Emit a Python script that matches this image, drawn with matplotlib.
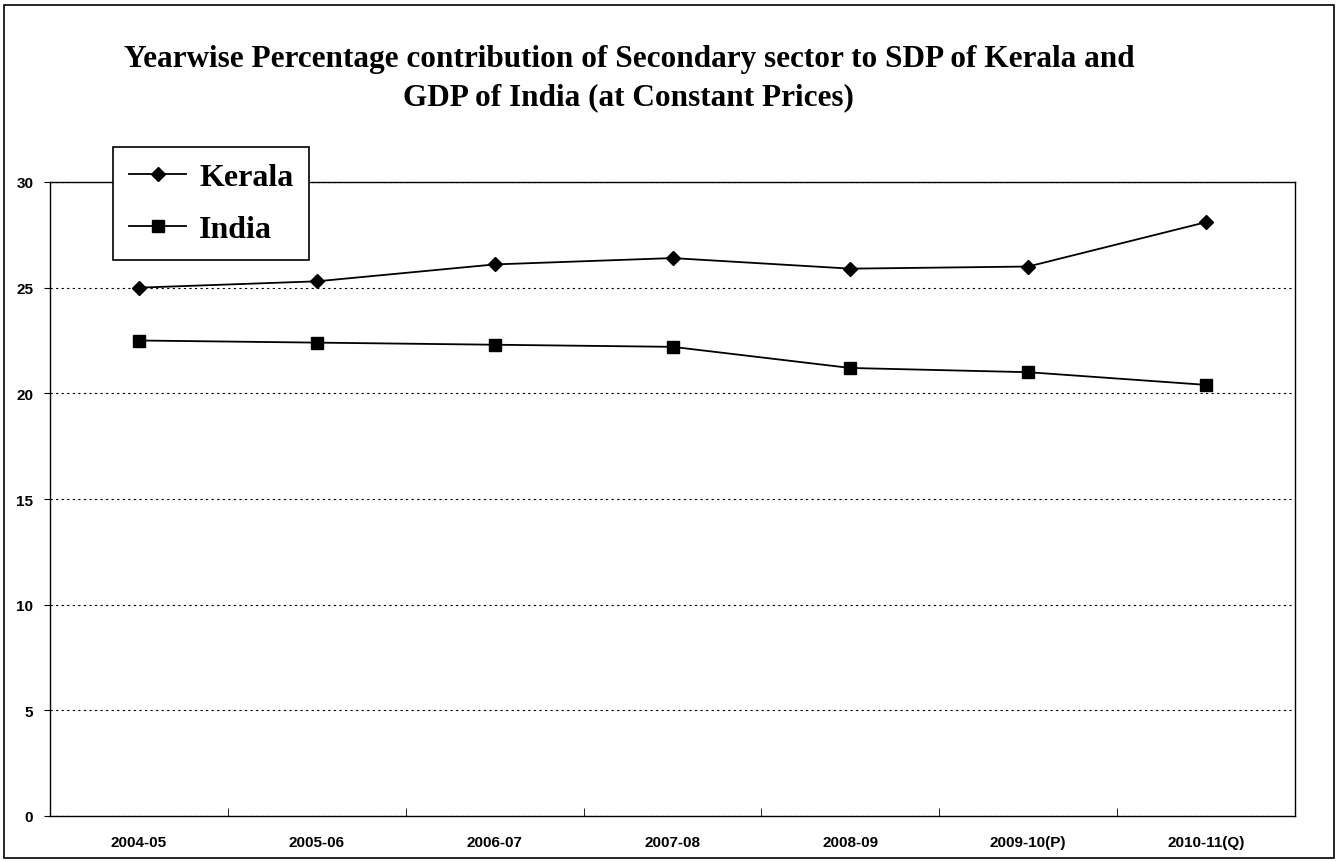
import matplotlib.pyplot as plt
from matplotlib.patches import Rectangle

years = ["2004-05", "2005-06", "2006-07", "2007-08", "2008-09", "2009-10(P)", "2010-11(Q)"]
kerala = [25.0, 25.3, 26.1, 26.4, 25.9, 26.0, 28.1]
india = [22.5, 22.4, 22.3, 22.2, 21.2, 21.0, 20.4]
yticks = [0, 5, 10, 15, 20, 25, 30]

fig = plt.figure(figsize=(13.38, 8.62), dpi=100)
ax = fig.add_axes([50 / 1338, 1 - 817 / 862, 1245 / 1338, 634 / 862])

x = list(range(len(years)))
ax.plot(x, kerala, color="black", lw=1.3, marker="D", ms=7, label="Kerala")
ax.plot(x, india, color="black", lw=1.3, marker="s", ms=8, label="India")

ax.set_xlim(-0.5, len(years) - 0.5)
ax.set_ylim(0, 30)
ax.set_yticks(yticks)
ax.set_yticklabels([str(v) for v in yticks], fontsize=11, fontweight="bold",
                   family="Liberation Sans")
ax.set_xticks(x)
ax.set_xticklabels(years, fontsize=11, fontweight="bold", family="Liberation Sans")
ax.tick_params(axis="x", length=0, pad=14)
ax.tick_params(axis="y", length=4, direction="out", pad=8)
ax.set_xticks([i - 0.5 for i in range(1, len(years))], minor=True)
ax.tick_params(axis="x", which="minor", length=6, direction="in")

ax.grid(axis="y", linestyle=(0, (2, 3)), color="black", lw=0.8)
for s in ax.spines.values():
    s.set_color("black")
    s.set_linewidth(1.0)

leg = fig.legend(loc="upper left", bbox_to_anchor=(113 / 1338, 1 - 148 / 862),
                 borderaxespad=0,
                 prop={"family": "Liberation Serif", "size": 23, "weight": "bold"},
                 frameon=True, fancybox=False, edgecolor="black", framealpha=1,
                 handlelength=1.8, handletextpad=0.4, borderpad=0.5, labelspacing=0.7)
leg.get_frame().set_linewidth(1.2)

fig.text(0.47, 1 - 60 / 862,
         "Yearwise Percentage contribution of Secondary sector to SDP of Kerala and",
         ha="center", va="center", fontsize=22.5, fontweight="bold", family="Liberation Serif")
fig.text(0.47, 1 - 98 / 862, "GDP of India (at Constant Prices)",
         ha="center", va="center", fontsize=22.5, fontweight="bold", family="Liberation Serif")

fig.patches.append(Rectangle((0.003, 0.003), 0.994, 0.99, transform=fig.transFigure,
                             fill=False, edgecolor="black", lw=1.2))

fig.savefig("out.png", dpi=100)
